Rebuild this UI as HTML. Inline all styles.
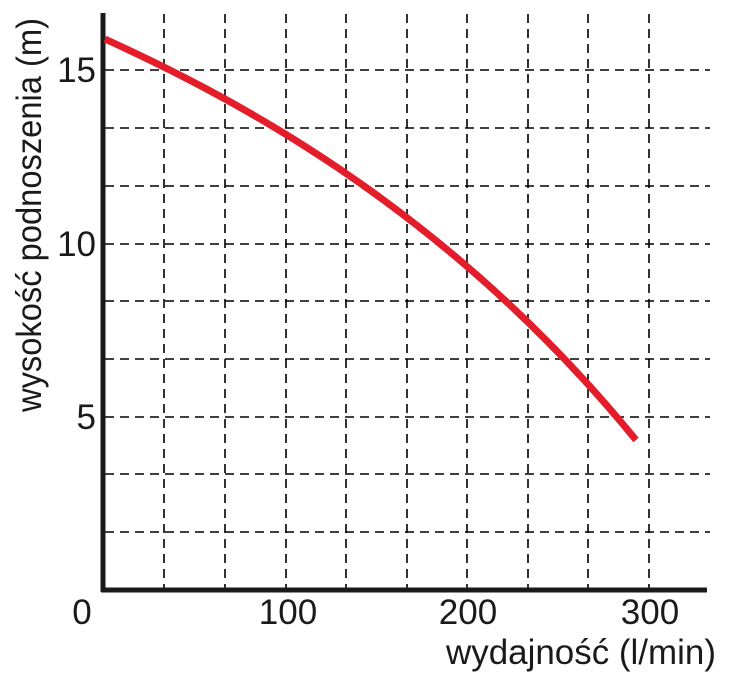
<!DOCTYPE html>
<html><head><style>
body{margin:0;background:#fff;}
svg{display:block;font-family:"Liberation Sans",sans-serif;}
</style></head><body>
<svg width="745" height="681" viewBox="0 0 745 681">
<g stroke="#000" stroke-width="1.6" stroke-dasharray="9,6">
<line x1="164" y1="14" x2="164" y2="588"/>
<line x1="225" y1="14" x2="225" y2="588"/>
<line x1="286" y1="14" x2="286" y2="588"/>
<line x1="346" y1="14" x2="346" y2="588"/>
<line x1="407" y1="14" x2="407" y2="588"/>
<line x1="467" y1="14" x2="467" y2="588"/>
<line x1="528" y1="14" x2="528" y2="588"/>
<line x1="588" y1="14" x2="588" y2="588"/>
<line x1="649" y1="14" x2="649" y2="588"/>
<line x1="105" y1="70" x2="710" y2="70"/>
<line x1="105" y1="128" x2="710" y2="128"/>
<line x1="105" y1="186" x2="710" y2="186"/>
<line x1="105" y1="244" x2="710" y2="244"/>
<line x1="105" y1="301" x2="710" y2="301"/>
<line x1="105" y1="359" x2="710" y2="359"/>
<line x1="105" y1="417" x2="710" y2="417"/>
<line x1="105" y1="474" x2="710" y2="474"/>
<line x1="105" y1="532" x2="710" y2="532"/>
</g>
<line x1="103" y1="13" x2="103" y2="592" stroke="#1a1a1a" stroke-width="5"/>
<line x1="101" y1="590" x2="707" y2="590" stroke="#1a1a1a" stroke-width="5"/>
<path d="M105,39 C220,92 440,200 636,440" fill="none" stroke="#e31e2a" stroke-width="7"/>
<g font-size="35" fill="#1a1a1a">
<text x="96" y="82" text-anchor="end">15</text>
<text x="96" y="256" text-anchor="end">10</text>
<text x="96" y="429" text-anchor="end">5</text>
<text x="82" y="624" text-anchor="middle">0</text>
<text x="288" y="624" text-anchor="middle">100</text>
<text x="468" y="624" text-anchor="middle">200</text>
<text x="650" y="624" text-anchor="middle">300</text>
<text x="716" y="664" text-anchor="end" textLength="270" lengthAdjust="spacingAndGlyphs">wydajność (l/min)</text>
<text transform="translate(41,215) rotate(-90)" text-anchor="middle" textLength="394" lengthAdjust="spacingAndGlyphs">wysokość podnoszenia (m)</text>
</g>
</svg>
</body></html>
